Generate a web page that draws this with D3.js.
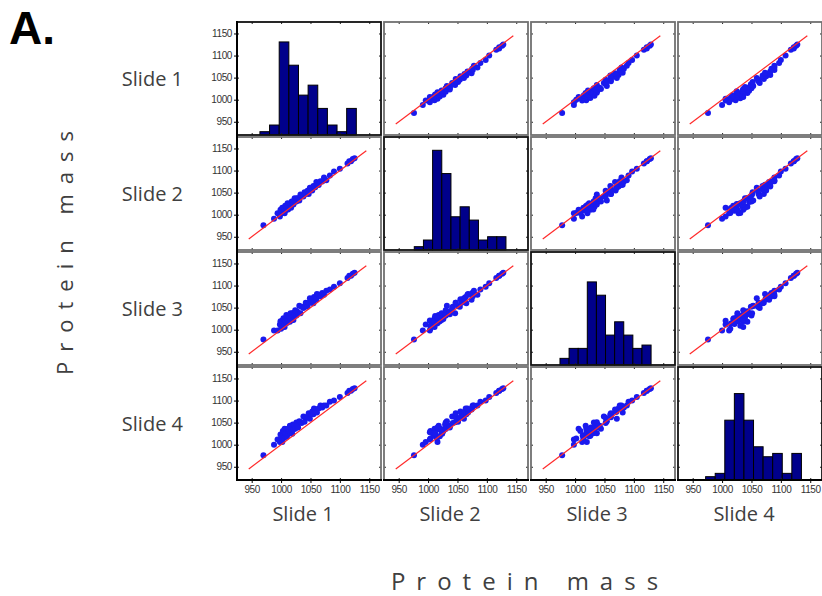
<!DOCTYPE html>
<html>
<head>
<meta charset="utf-8">
<script src="https://cdn.jsdelivr.net/npm/d3@7"></script>
<style>
  body { margin: 0; background: #fff; }
</style>
</head>
<body>
<div id="chart"></div>
<script>

// Scatterplot matrix of protein mass, four slides

const width = 822;
const height = 596;

// panel grid
const panelW = 144;
const panelH = 113;
const left0 = 237;
const top0 = 22;
const stepX = 147;
const stepY = 115;

// data
const slideNames = ["Slide 1", "Slide 2", "Slide 3", "Slide 4"];
const tickValues = [950, 1000, 1050, 1100, 1150];

const slide1 = [970, 988, 994, 998, 999, 1000, 1001, 1002, 1003, 1004, 1005, 1006, 1006, 1007, 1008, 1009,
  1010, 1011, 1012, 1012, 1014, 1015, 1016, 1017, 1018, 1019, 1020, 1021, 1023, 1024, 1026, 1027, 1029,
  1031, 1033, 1035, 1038, 1040, 1042, 1045, 1047, 1049, 1051, 1053, 1055, 1056, 1058, 1060, 1061,
  1064, 1067, 1070, 1073, 1077, 1083, 1090, 1100, 1113, 1116, 1119, 1122, 1125];
const slide2 = [976, 991, 1003, 996, 1011, 1004, 1009, 1016, 1004, 1011, 1015, 1003, 1011, 1020, 1010, 1018,
  1016, 1026, 1012, 1020, 1025, 1018, 1023, 1016, 1030, 1024, 1029, 1023, 1037, 1030, 1030, 1037, 1037,
  1032, 1046, 1042, 1041, 1051, 1047, 1054, 1047, 1061, 1057, 1055, 1065, 1064, 1062, 1074, 1068,
  1067, 1076, 1075, 1084, 1078, 1089, 1098, 1104, 1116, 1121, 1121, 1126, 1128];
const slide3 = [978, 998, 998, 1012, 1019, 1002, 1013, 1020, 1009, 1026, 1014, 1021, 1006, 1024, 1019, 1033,
  1015, 1024, 1031, 1019, 1030, 1018, 1037, 1027, 1032, 1027, 1038, 1022, 1035, 1044, 1032, 1042, 1038,
  1054, 1037, 1052, 1049, 1053, 1061, 1052, 1061, 1071, 1061, 1069, 1060, 1074, 1070, 1068, 1081,
  1079, 1076, 1083, 1079, 1088, 1091, 1097, 1105, 1117, 1122, 1122, 1127, 1129];
const slide4 = [976, 1000, 1012, 1006, 1023, 1014, 1021, 1006, 1031, 1020, 1015, 1028, 1036, 1019, 1026, 1035,
  1018, 1031, 1026, 1036, 1030, 1043, 1026, 1039, 1036, 1025, 1046, 1035, 1043, 1036, 1050, 1043, 1039,
  1053, 1051, 1049, 1064, 1052, 1062, 1061, 1071, 1059, 1069, 1075, 1069, 1082, 1074, 1080, 1073,
  1082, 1089, 1084, 1089, 1089, 1097, 1100, 1108, 1117, 1122, 1122, 1126, 1128];
const slides = [slide1, slide2, slide3, slide4];

// histogram counts
const hist1 = [1, 3, 28, 21, 12, 15, 8, 3, 1, 8];
const hist2 = [1, 3, 30, 23, 10, 13, 9, 3, 4, 4];
const hist3 = [2, 5, 5, 25, 21, 9, 13, 9, 5, 6];
const hist4 = [1, 2, 18, 26, 18, 10, 7, 8, 2, 8];
const hists = [hist1, hist2, hist3, hist4];
const histStart = [964, 976.5, 974.3, 972];
const histWidth = [16.4, 15.6, 15.5, 16.3];

// red identity line end points
const fitLine = [945, 1145];

const svg = d3.select("#chart")
  .append("svg")
  .attr("width", width)
  .attr("height", height)
  .style("font-family", "'Liberation Sans', Arial, sans-serif");

// scales shared by all panels
const x = d3.scaleLinear().domain([925, 1170]).range([0, panelW]);
const y = d3.scaleLinear().domain([920, 1176]).range([panelH, 0]);
const yCount = d3.scaleLinear().domain([0, 34]).range([panelH, 0]);
const fmt = d3.format("d");

// panel label "A."
svg.append("text")
  .attr("x", 9)
  .attr("y", 44)
  .attr("font-size", "46px")
  .attr("font-weight", "bold")
  .attr("fill", "#000")
  .text("A.");

for (let i = 0; i < 4; i++) {
  for (let j = 0; j < 4; j++) {
    const g = svg.append("g")
      .attr("transform", `translate(${left0 + j * stepX}, ${top0 + i * stepY})`);

    if (i === j) {
      // histogram on the diagonal
      const bins = hists[i].map((c, k) => ({
        x0: histStart[i] + k * histWidth[i],
        x1: histStart[i] + (k + 1) * histWidth[i],
        count: c
      }));
      g.selectAll(".bar")
        .data(bins)
        .enter()
        .append("rect")
          .attr("class", "bar")
          .attr("x", d => x(d.x0))
          .attr("y", d => yCount(d.count))
          .attr("width", d => x(d.x1) - x(d.x0))
          .attr("height", d => panelH - yCount(d.count))
          .attr("fill", "#00008b")
          .attr("stroke", "#000")
          .attr("stroke-width", 1);
    } else {
      // scatter: column slide on x, row slide on y
      const pts = slides[j].map((v, k) => ({ xv: v, yv: slides[i][k] }));
      g.selectAll(".dot")
        .data(pts)
        .enter()
        .append("circle")
          .attr("class", "dot")
          .attr("cx", d => x(d.xv))
          .attr("cy", d => y(d.yv))
          .attr("r", 3)
          .attr("fill", "#1a1aee");

      g.append("line")
        .attr("x1", x(fitLine[0]))
        .attr("y1", y(fitLine[0]))
        .attr("x2", x(fitLine[1]))
        .attr("y2", y(fitLine[1]))
        .attr("stroke", "#ff2a2a")
        .attr("stroke-width", 1.2);
    }

    // small inner ticks on every side
    const inner = [
      { axis: d3.axisLeft(y), t: "translate(0,0)" },
      { axis: d3.axisRight(y), t: `translate(${panelW},0)` },
      { axis: d3.axisTop(x), t: "translate(0,0)" },
      { axis: d3.axisBottom(x), t: `translate(0,${panelH})` }
    ];
    inner.forEach(a => {
      const ax = g.append("g")
        .attr("transform", a.t)
        .call(a.axis.tickValues(tickValues).tickSize(-2).tickFormat(""));
      ax.select(".domain").remove();
      ax.selectAll("line").attr("stroke", "#222");
    });

    // panel frame
    g.append("rect")
      .attr("x", 0)
      .attr("y", 0)
      .attr("width", panelW)
      .attr("height", panelH)
      .attr("fill", "none")
      .attr("stroke", i === j ? "#111" : "#707070")
      .attr("stroke-width", 1.8);

    // y labels on first column
    if (j === 0) {
      const ay = g.append("g")
        .call(d3.axisLeft(y).tickValues(tickValues).tickSize(3).tickPadding(2).tickFormat(fmt))
        .attr("font-size", "10px");
      ay.select(".domain").remove();
      ay.selectAll("text").attr("fill", "#333").attr("letter-spacing", "-0.4px");
      g.append("line")
        .attr("x1", 0).attr("y1", -1).attr("x2", 0).attr("y2", panelH + 1)
        .attr("stroke", "#000").attr("stroke-width", 2);

      svg.append("text")
        .attr("x", 183)
        .attr("y", top0 + i * stepY + panelH / 2 + 7)
        .attr("text-anchor", "end")
        .attr("font-family", "'Open Sans', sans-serif")
        .attr("font-size", "20px")
        .attr("fill", "#404040")
        .text(slideNames[i]);
    }

    // x labels on bottom row
    if (i === 3) {
      const ax = g.append("g")
        .attr("transform", `translate(0,${panelH})`)
        .call(d3.axisBottom(x).tickValues(tickValues).tickSize(3).tickPadding(3).tickFormat(fmt))
        .attr("font-size", "10px");
      ax.select(".domain").remove();
      ax.selectAll("text").attr("fill", "#333").attr("letter-spacing", "-0.4px");
      g.append("line")
        .attr("x1", -1).attr("y1", panelH).attr("x2", panelW + 1).attr("y2", panelH)
        .attr("stroke", "#000").attr("stroke-width", 2);

      svg.append("text")
        .attr("x", left0 + j * stepX + panelW / 2 - 6)
        .attr("y", 521)
        .attr("text-anchor", "middle")
        .attr("font-family", "'Open Sans', sans-serif")
        .attr("font-size", "20px")
        .attr("fill", "#404040")
        .text(slideNames[j]);
    }
  }
}

// axis titles
svg.append("text")
  .attr("transform", "translate(73,248) rotate(-90)")
  .attr("text-anchor", "middle")
  .attr("font-family", "'Open Sans', sans-serif")
  .attr("font-size", "22px")
  .attr("letter-spacing", "10px")
  .attr("fill", "#404040")
  .text("Protein mass");

svg.append("text")
  .attr("x", 530)
  .attr("y", 590)
  .attr("text-anchor", "middle")
  .attr("font-family", "'Open Sans', sans-serif")
  .attr("font-size", "24px")
  .attr("letter-spacing", "11px")
  .attr("fill", "#404040")
  .text("Protein mass");

</script>
</body>
</html>
